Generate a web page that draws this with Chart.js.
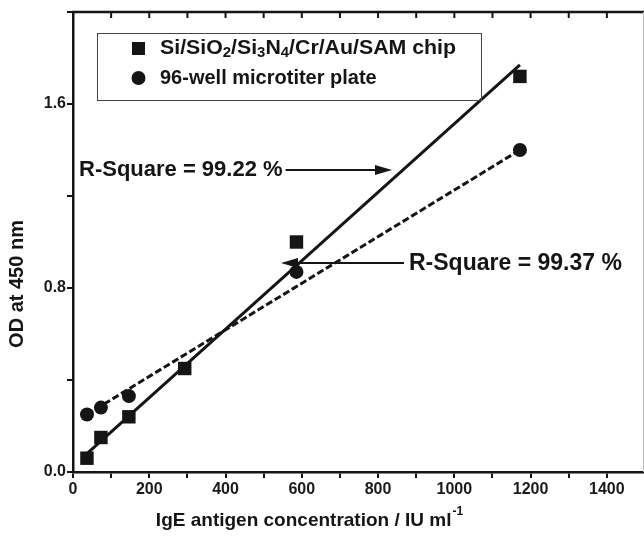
<!DOCTYPE html>
<html><head><meta charset="utf-8">
<script src="https://cdn.jsdelivr.net/npm/chart.js@4.4.1/dist/chart.umd.min.js"></script>
<style>html,body{margin:0;padding:0;background:#fff;overflow:hidden}#wrap{width:644px;height:536px;overflow:hidden}</style>
</head><body><div id="wrap"><canvas id="c" width="660" height="536"></canvas></div>
<script>
// ---- data ----
const chipX   = [36.6, 73.2, 146.5, 293, 586, 1172];
const chipOD  = [0.06, 0.15, 0.24, 0.45, 1.00, 1.72];
const plateX  = [36.6, 73.2, 146.5, 586, 1172];
const plateOD = [0.25, 0.28, 0.33, 0.87, 1.40];
const chipFitX  = [36.6, 1172];
const chipFitY  = [0.08, 1.77];
const plateFitX = [36.6, 1172];
const plateFitY = [0.25, 1.40];
const seriesNames = ['Si/SiO2/Si3N4/Cr/Au/SAM chip', '96-well microtiter plate'];
const rsqLabels = ['R-Square = 99.22 %', 'R-Square = 99.37 %'];
const xTitle = 'IgE antigen concentration / IU ml';
const xTitleSup = '-1';
const yTitle = 'OD at 450 nm';

const pts = (xs, ys) => xs.map((x, i) => ({x, y: ys[i]}));
const INK = '#151515';
const FONT = '"Liberation Sans", Arial, sans-serif';

const deco = {
  id: 'deco',
  afterDraw(chart) {
    const ctx = chart.ctx, a = chart.chartArea, xs = chart.scales.x;
    ctx.save();
    ctx.strokeStyle = INK; ctx.fillStyle = INK;
    // top frame + inward ticks
    ctx.lineWidth = 2.5;
    ctx.beginPath(); ctx.moveTo(a.left - 1, a.top); ctx.lineTo(a.right + 2, a.top); ctx.stroke();
    ctx.lineWidth = 1; ctx.strokeStyle = '#bbb';
    ctx.beginPath(); ctx.moveTo(643.5, a.top); ctx.lineTo(643.5, a.bottom); ctx.stroke();
    ctx.strokeStyle = INK;
    ctx.lineWidth = 2;
    for (let v = 100; v < 1500; v += 100) {
      const px = xs.getPixelForValue(v);
      ctx.beginPath(); ctx.moveTo(px, a.top); ctx.lineTo(px, a.top + 6); ctx.stroke();
    }
    // legend box
    ctx.lineWidth = 1; ctx.strokeStyle = '#444';
    ctx.strokeRect(97.5, 33.5, 384, 67);
    ctx.fillStyle = INK;
    ctx.fillRect(132, 42, 13, 13);
    ctx.beginPath(); ctx.arc(138.5, 78, 7, 0, Math.PI * 2); ctx.fill();
    ctx.textBaseline = 'middle'; ctx.textAlign = 'left';
    // legend text 1 with subscripts, stretched slightly to match the reference width
    const segs = [['Si/SiO',0],['2',1],['/Si',0],['3',1],['N',0],['4',1],['/Cr/Au/SAM chip',0]];
    let total = 0;
    for (const [t, sub] of segs) { ctx.font = sub ? 'bold 14px ' + FONT : 'bold 20px ' + FONT; total += ctx.measureText(t).width; }
    const sx = 296 / total;
    ctx.save(); ctx.translate(160, 0); ctx.scale(sx, 1);
    let x = 0;
    for (const [t, sub] of segs) {
      ctx.font = sub ? 'bold 14px ' + FONT : 'bold 20px ' + FONT;
      ctx.fillText(t, x, sub ? 53 : 48);
      x += ctx.measureText(t).width;
    }
    ctx.restore();
    ctx.font = 'bold 20px ' + FONT;
    ctx.fillText(seriesNames[1], 160, 78);
    // R-square annotations
    ctx.font = 'bold 22px ' + FONT;
    ctx.fillText(rsqLabels[0], 79, 170);
    const w1 = ctx.measureText(rsqLabels[0]).width;
    ctx.font = 'bold 23px ' + FONT;
    ctx.fillText(rsqLabels[1], 409, 264);
    ctx.lineWidth = 2; ctx.strokeStyle = INK;
    ctx.beginPath(); ctx.moveTo(79 + w1 + 3, 170); ctx.lineTo(378, 170); ctx.stroke();
    ctx.beginPath(); ctx.moveTo(392, 170); ctx.lineTo(375, 165); ctx.lineTo(375, 175); ctx.closePath(); ctx.fill();
    ctx.beginPath(); ctx.moveTo(404, 263); ctx.lineTo(296, 263); ctx.stroke();
    ctx.beginPath(); ctx.moveTo(281, 263); ctx.lineTo(298, 258); ctx.lineTo(298, 268); ctx.closePath(); ctx.fill();
    // axis titles
    ctx.font = 'bold 19px ' + FONT;
    ctx.textAlign = 'left';
    const w = ctx.measureText(xTitle).width;
    ctx.font = 'bold 12px ' + FONT;
    const ws = ctx.measureText(xTitleSup).width;
    const x0 = 309 - (w + ws) / 2;
    ctx.font = 'bold 19px ' + FONT;
    ctx.fillText(xTitle, x0, 521);
    ctx.font = 'bold 12px ' + FONT;
    ctx.fillText(xTitleSup, x0 + w + 1, 512);
    ctx.save();
    ctx.translate(17, 284); ctx.rotate(-Math.PI / 2);
    ctx.font = 'bold 20px ' + FONT; ctx.textAlign = 'center';
    ctx.fillText(yTitle, 0, 0);
    ctx.restore();
    ctx.restore();
  }
};

new Chart(document.getElementById('c'), {
  type: 'scatter',
  data: {
    datasets: [
      { type: 'line', data: pts(chipFitX, chipFitY), borderColor: INK, borderWidth: 3, pointRadius: 0, fill: false, order: 3 },
      { type: 'line', data: pts(plateFitX, plateFitY), borderColor: INK, borderWidth: 3, borderDash: [7, 3], pointRadius: 0, fill: false, order: 4 },
      { label: seriesNames[0], data: pts(chipX, chipOD), pointStyle: 'rect', pointRadius: 9.5, backgroundColor: INK, borderColor: INK, borderWidth: 0, order: 1 },
      { label: seriesNames[1], data: pts(plateX, plateOD), pointStyle: 'circle', pointRadius: 7, backgroundColor: INK, borderColor: INK, borderWidth: 0, order: 2 }
    ]
  },
  options: {
    responsive: false, animation: false, devicePixelRatio: 1,
    layout: { padding: { top: 12, right: 15, left: 0, bottom: 0 } },
    plugins: { legend: { display: false }, tooltip: { enabled: false } },
    scales: {
      x: {
        type: 'linear', min: 0, max: 1500,
        afterFit: s => { s.height = 64; },
        border: { display: true, color: INK, width: 2.5 },
        grid: { display: true, drawOnChartArea: false, drawTicks: true, tickLength: 6, color: INK, lineWidth: 2 },
        ticks: { stepSize: 100, autoSkip: false, maxRotation: 0, padding: 2, color: '#1a1a1a',
          font: { family: FONT, weight: 'bold', size: 16 },
          callback: v => (Math.round(v) % 200 === 0 ? String(Math.round(v)) : '') }
      },
      y: {
        type: 'linear', min: 0, max: 2.0,
        afterFit: s => { s.width = 73; },
        border: { display: true, color: INK, width: 2.5 },
        grid: { display: true, drawOnChartArea: false, drawTicks: true, tickLength: 6, color: INK, lineWidth: 2 },
        ticks: { stepSize: 0.4, autoSkip: false, padding: 1, color: '#1a1a1a',
          font: { family: FONT, weight: 'bold', size: 16 },
          callback: v => (Math.round(v * 10) % 8 === 0 ? (Math.round(v * 10) / 10).toFixed(1) : '') }
      }
    }
  },
  plugins: [deco]
});
</script></body></html>
